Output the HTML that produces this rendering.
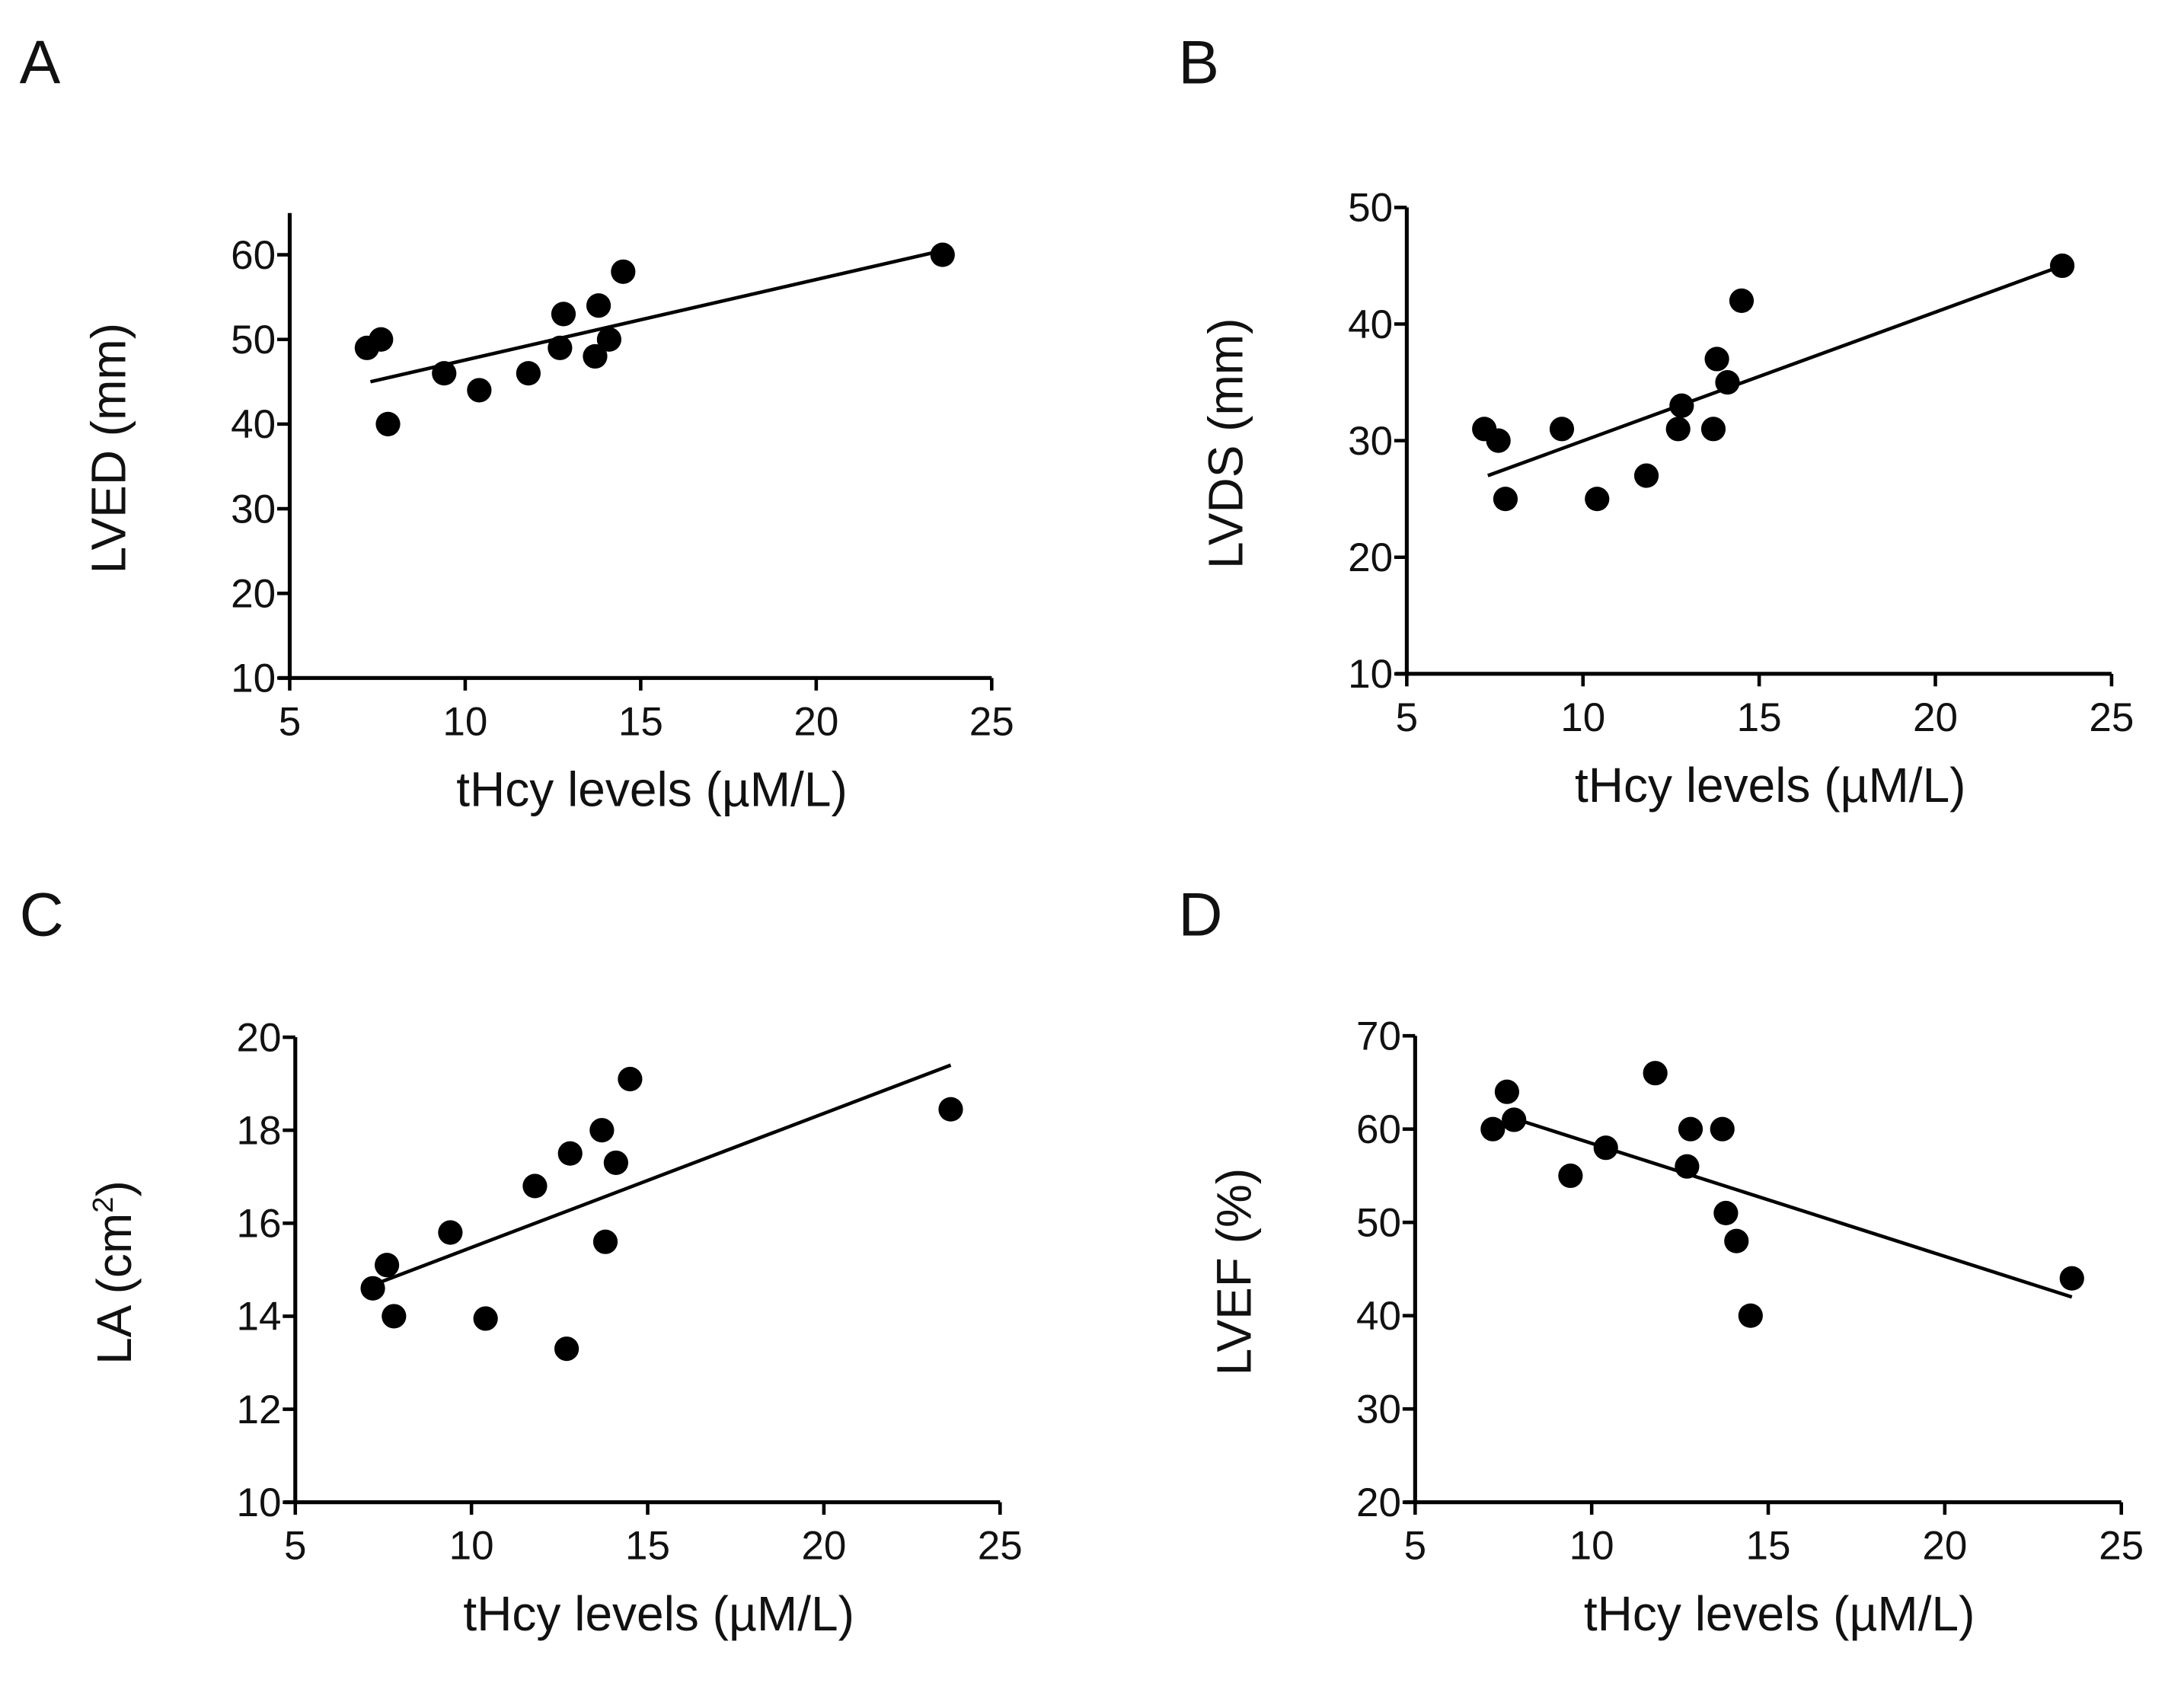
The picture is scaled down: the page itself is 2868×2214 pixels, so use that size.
<!DOCTYPE html>
<html><head><meta charset="utf-8"><style>html,body{margin:0;padding:0;background:#fff}svg{display:block}</style></head>
<body>
<svg id="fig" width="2868" height="2214" viewBox="0 0 1568 1211" preserveAspectRatio="none" xmlns="http://www.w3.org/2000/svg" font-family="Liberation Sans, Arial, sans-serif"></svg>
<script>
const xVals = [7.2,7.6,7.8,9.4,10.4,11.8,12.7,12.8,13.7,13.8,14.1,14.5,23.6];
const lvedVals = [49,50,40,46,44,46,49,53,48,54,50,58,60];
const lvdsVals = [31,30,25,31,25,27,31,33,31,37,35,42,45];
const laVals = [14.6,15.1,14.0,15.8,13.95,16.8,13.3,17.5,18.0,15.6,17.3,19.1,18.45];
const lvefX = [7.2,7.6,7.8,9.4,10.4,11.8,12.7,12.8,13.7,13.8,14.1,14.5,23.6];
const lvefVals = [60,64,61,55,58,66,56,60,60,51,48,40,44];
const xTicks = [5,10,15,20,25];
const lvedTicks = [10,20,30,40,50,60];
const lvdsTicks = [10,20,30,40,50];
const laTicks = [10,12,14,16,18,20];
const lvefTicks = [20,30,40,50,60,70];
const lvedFit = [[7.3,45],[23.6,60.5]];
const lvdsFit = [[7.3,27],[23.6,45]];
const laFit = [[7.3,14.7],[23.6,19.4]];
const lvefFit = [[7.5,61.5],[23.6,42]];

const svg = document.getElementById('fig');
const NS = 'http://www.w3.org/2000/svg';
function mk(tag, attrs, parent){const e=document.createElementNS(NS,tag);for(const k in attrs)e.setAttribute(k,attrs[k]);parent.appendChild(e);return e;}

const panels = [
 {id:'a',letter:'A',lx:14,ly:60,ax:208,ay:487,top:153,x1:712,ymin:10,ymax:60,yTop:183,ticks:lvedTicks,xs:xVals,ys:lvedVals,fit:lvedFit,title:'LVED (mm)',sup:null},
 {id:'b',letter:'B',lx:846,ly:60,ax:1010,ay:484,top:149,x1:1516,ymin:10,ymax:50,yTop:149,ticks:lvdsTicks,xs:xVals,ys:lvdsVals,fit:lvdsFit,title:'LVDS (mm)',sup:null},
 {id:'c',letter:'C',lx:14,ly:672,ax:212,ay:1079,top:745,x1:718,ymin:10,ymax:20,yTop:745,ticks:laTicks,xs:xVals,ys:laVals,fit:laFit,title:'LA (cm',sup:'2'},
 {id:'d',letter:'D',lx:846,ly:672,ax:1016,ay:1079,top:744,x1:1523,ymin:20,ymax:70,yTop:744,ticks:lvefTicks,xs:lvefX,ys:lvefVals,fit:lvefFit,title:'LVEF (%)',sup:null}
];

panels.forEach(p=>{
 const g = mk('g',{},svg);
 
 
 const X = v => p.ax + (v-5)/(25-5)*(p.x1-p.ax);
 const Y = v => p.ay - (v-p.ymin)/(p.ymax-p.ymin)*(p.ay-p.yTop);
 const L = mk('text',{x:p.lx,y:p.ly,'font-size':44,fill:'#111'},g); L.textContent=p.letter;
 
 
 const ya = mk('line',{x1:p.ax,y1:p.top,x2:p.ax,y2:p.ay,stroke:'#000','stroke-width':2.8},g);
 
 
 const xa = mk('line',{x1:p.ax-8,y1:p.ay,x2:p.x1,y2:p.ay,stroke:'#000','stroke-width':2.8},g);
 
 
 xTicks.forEach(t=>{
  mk('line',{x1:X(t),y1:p.ay,x2:X(t),y2:p.ay+9,stroke:'#000','stroke-width':2.5},g);
  const tx=mk('text',{x:X(t),y:p.ay+41,'font-size':29,'text-anchor':'middle',fill:'#111'},g); tx.textContent=t;
  
  
 });
 p.ticks.forEach(t=>{
  mk('line',{x1:p.ax-9,y1:Y(t),x2:p.ax,y2:Y(t),stroke:'#000','stroke-width':2.5},g);
  const ty=mk('text',{x:p.ax-10,y:Y(t)+10,'font-size':29,'text-anchor':'end',fill:'#111'},g); ty.textContent=t;
  
  
 });
 const xt=mk('text',{x:(p.ax+p.x1)/2+8,y:p.ay+92,'font-size':35,'text-anchor':'middle',fill:'#111'},g); xt.textContent='tHcy levels (µM/L)';
 
 
 const cy=(p.top+p.ay)/2+2, cx=p.ax-118;
 const yt=mk('text',{x:cx,y:cy,'font-size':35,'text-anchor':'middle',fill:'#111',transform:`rotate(-90 ${cx} ${cy})`},g);
 yt.textContent=p.title;
 if(p.sup){const s=mk('tspan',{'font-size':21,dy:-13},yt);s.textContent=p.sup;const s2=mk('tspan',{dy:13},yt);s2.textContent=')';}
 
 
 const fl=mk('line',{x1:X(p.fit[0][0]),y1:Y(p.fit[0][1]),x2:X(p.fit[1][0]),y2:Y(p.fit[1][1]),stroke:'#000','stroke-width':2.5},g);
 
 
 p.xs.forEach((xv,i)=>{
  const c=mk('circle',{cx:X(xv),cy:Y(p.ys[i]),r:8.8,fill:'#000'},g);
  
  
 });
});
</script>
</body></html>
